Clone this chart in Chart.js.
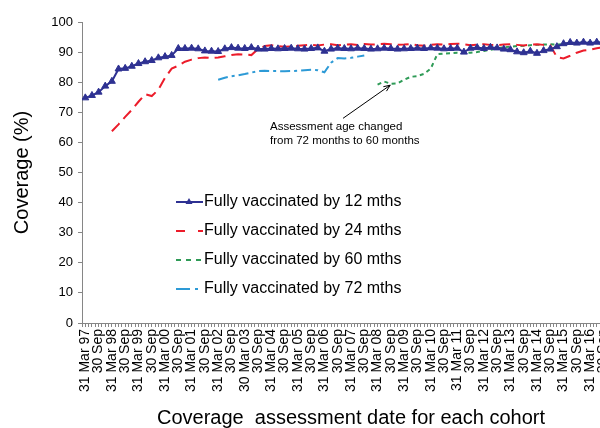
<!DOCTYPE html>
<html>
<head>
<meta charset="utf-8">
<script src="https://cdn.jsdelivr.net/npm/chart.js@4/dist/chart.umd.min.js"></script>
<style>
    html, body { margin: 0; padding: 0; background: #fff; }
    #wrap { width: 600px; height: 428px; overflow: hidden; }
</style>
</head>
<body>
<div id="wrap"><canvas id="chart" width="625" height="428"></canvas></div>
<script>
// labels on every second quarter (31 Mar 97 .. 31 Mar 17)
const tickLabels = [
    '31 Mar 97', '30 Sep', '31 Mar 98', '30 Sep', '31 Mar 99', '30 Sep',
    '31 Mar 00', '30 Sep', '31 Mar 01', '30 Sep', '31 Mar 02', '30 Sep',
    '30 Mar 03', '30 Sep', '31 Mar 04', '30 Sep', '31 Mar 05', '30 Sep',
    '31 Mar 06', '30 Sep', '31 Mar 07', '30 Sep', '31 Mar 08', '30 Sep',
    '31 Mar 09', '30 Sep', '31 Mar 10', '30 Sep', '31 Mar 11', '30 Sep',
    '31 Mar 12', '30 Sep', '31 Mar 13', '30 Sep', '31 Mar 14', '30 Sep',
    '31 Mar 15', '30 Sep', '31 Mar 16', '30 Sep', '31 Mar 17'
];
const quarterCount = 81;

// coverage (%) per quarter, null = not measured
const by12 = [
    74.8, 75.6, 76.7, 78.7, 80.3, 84.4, 84.6, 85.3, 86.2, 86.8, 87.2, 88.1, 88.5, 88.9,
    91.2, 91.2, 91.3, 91.1, 90.4, 90.3, 90.2, 91.1, 91.5, 91.3, 91.2, 91.5, 91.0, 91.0,
    91.2, 91.1, 91.2, 91.3, 91.1, 91.0, 91.2, 91.4, 90.3, 91.0, 91.3, 91.2, 91.1, 91.3,
    91.2, 91.0, 91.1, 91.3, 91.2, 91.0, 91.1, 91.2, 91.3, 91.2, 91.4, 91.3, 91.1, 91.2,
    91.3, 90.0, 91.3, 91.5, 91.2, 91.6, 91.4, 91.0, 90.8, 90.1, 89.8, 90.3, 89.6, 90.5,
    91.0, 91.8, 92.8, 93.2, 93.0, 93.3, 93.0, 93.3, 93.2
];
const by24 = [
    null, null, null, null,
    63.7, 66.0, 68.5, 70.8, 73.5, 76.0, 75.4, 77.5, 81.5, 84.5, 85.5, 86.8, 87.5, 88.0,
    88.2, 88.0, 88.2, 88.6, 89.0, 89.3, 89.2, 89.0, 91.0, 92.0, 92.3, 92.0, 91.8, 91.9,
    92.1, 92.3, 92.4, 92.2, 92.5, 92.6, 92.3, 92.5, 92.6, 92.4, 92.7, 92.5, 92.6, 92.8,
    92.6, 92.4, 92.5, 92.7, 92.3, 92.1, 92.4, 92.6, 92.5, 92.7, 92.8, 92.6, 92.3, 92.5,
    92.6, 92.4, 92.3, 92.5, 92.6, 92.4, 92.2, 92.5, 92.6, 92.4, 92.3, 88.3, 87.9, 88.8,
    89.8, 90.5, 90.8, 91.3, 91.6
];
const by60Start = 44;
const by60 = [
    79.2, 80.2, 79.5, 79.6, 80.8, 81.8, 82.0, 82.8, 84.5, 89.3, 89.5, 89.6, 89.8, 89.7,
    89.8, 90.0, 90.4, 90.8, 91.2, 91.6, 91.8, 92.0, 92.1, 92.3, 92.4, 92.5, 92.6, 92.5,
    92.7, 93.0, 93.1, 93.2, 93.3, 93.3, 93.4
];
const by72Start = 20;
const by72 = [
    80.8, 81.5, 82.0, 82.3, 82.7, 83.2, 83.7, 83.8, 83.7, 83.7, 83.6, 83.7, 83.8, 84.0,
    84.1, 84.0, 83.3, 86.5, 88.0, 87.9, 88.1, 88.5, 88.9
];

function toPoints(values, start) {
    return values
        .map((v, i) => ({ x: i + start, y: v }))
        .filter(p => p.y !== null);
}

const font = 'Liberation Sans, Arial, sans-serif';

// legend drawn inside the plot + the arrow note
const overlay = {
    id: 'overlay',
    afterDatasetsDraw(chart) {
        const ctx = chart.ctx;
        const xs = chart.scales.x, ys = chart.scales.y;
        ctx.save();

        // legend
        const rows = [202, 231, 260, 289];
        const x0 = 176, x1 = 203;
        chart.data.datasets.forEach((ds, i) => {
            const y = rows[i];
            ctx.strokeStyle = ds.borderColor;
            ctx.lineWidth = 2;
            ctx.setLineDash(ds.legendDash || []);
            ctx.beginPath();
            ctx.moveTo(x0, y);
            ctx.lineTo(x1, y);
            ctx.stroke();
            ctx.setLineDash([]);
            if (ds.pointStyle === 'triangle') {
                ctx.fillStyle = ds.borderColor;
                ctx.beginPath();
                ctx.moveTo(189, y - 4);
                ctx.lineTo(192.5, y + 2);
                ctx.lineTo(185.5, y + 2);
                ctx.closePath();
                ctx.fill();
            }
            ctx.fillStyle = '#000';
            ctx.font = '16px ' + font;
            ctx.textBaseline = 'middle';
            ctx.textAlign = 'left';
            ctx.fillText(ds.label, x1 + 1, y);
        });

        // annotation text
        ctx.font = '11.5px ' + font;
        ctx.fillStyle = '#000';
        ctx.fillText('Assessment age changed', 270, 127);
        ctx.fillText('from 72 months to 60 months', 270, 141);

        // arrow
        const ax = xs.getPixelForValue(38.8), ay = ys.getPixelForValue(68.0);
        const bx = xs.getPixelForValue(45.9), by = ys.getPixelForValue(79.0);
        ctx.strokeStyle = '#000';
        ctx.lineWidth = 1;
        ctx.beginPath();
        ctx.moveTo(ax, ay);
        ctx.lineTo(bx, by);
        ctx.stroke();
        const ang = Math.atan2(by - ay, bx - ax);
        ctx.beginPath();
        ctx.moveTo(bx, by);
        ctx.lineTo(bx - 7 * Math.cos(ang - 0.4), by - 7 * Math.sin(ang - 0.4));
        ctx.moveTo(bx, by);
        ctx.lineTo(bx - 7 * Math.cos(ang + 0.4), by - 7 * Math.sin(ang + 0.4));
        ctx.stroke();
        ctx.restore();
    }
};

new Chart(document.getElementById('chart'), {
    type: 'line',
    data: {
        datasets: [
            {
                label: 'Fully vaccinated by 12 mths',
                data: toPoints(by12, 0),
                borderColor: '#2e3192',
                backgroundColor: '#2e3192',
                borderWidth: 2,
                pointStyle: 'triangle',
                pointRadius: 4,
                pointBorderWidth: 1,
                tension: 0
            },
            {
                label: 'Fully vaccinated by 24 mths',
                data: toPoints(by24, 0),
                borderColor: '#ec1c2a',
                borderWidth: 2,
                borderDash: [11, 6],
                legendDash: [9, 13],
                pointRadius: 0,
                tension: 0
            },
            {
                label: 'Fully vaccinated by 60 mths',
                data: toPoints(by60, by60Start),
                borderColor: '#2f9b57',
                borderWidth: 2,
                borderDash: [4, 3.5],
                legendDash: [5, 5],
                pointRadius: 0,
                tension: 0
            },
            {
                label: 'Fully vaccinated by 72 mths',
                data: toPoints(by72, by72Start),
                borderColor: '#2d9ad6',
                borderWidth: 2,
                borderDash: [10, 4, 3, 4],
                legendDash: [14, 5, 3, 5],
                pointRadius: 0,
                tension: 0
            }
        ]
    },
    options: {
        responsive: false,
        animation: false,
        layout: { padding: { top: 22, right: 5, left: 0, bottom: 0 } },
        plugins: {
            legend: { display: false },
            tooltip: { enabled: false }
        },
        scales: {
            x: {
                type: 'linear',
                min: -0.5,
                max: quarterCount - 0.5,
                afterBuildTicks(scale) {
                    const t = [];
                    for (let v = -0.5; v <= quarterCount - 0.5; v += 0.5) t.push({ value: v });
                    scale.ticks = t;
                },
                afterFit(scale) {
                    scale.height = 105;
                    scale.paddingLeft = 0;
                    scale.paddingRight = 0;
                },
                border: { color: '#868686', width: 1 },
                grid: { drawOnChartArea: false, tickLength: 4, color: '#868686' },
                ticks: {
                    autoSkip: false,
                    minRotation: 90,
                    maxRotation: 90,
                    padding: 2,
                    color: '#000',
                    font: { family: font, size: 14 },
                    callback: v => (Number.isInteger(v) && v % 2 === 0) ? tickLabels[v / 2] : ''
                },
                title: {
                    display: true,
                    text: 'Coverage  assessment date for each cohort',
                    color: '#000',
                    font: { family: font, size: 20, lineHeight: 1 },
                    padding: 0
                }
            },
            y: {
                min: 0,
                max: 100,
                afterFit(scale) { scale.width = 82; },
                border: { color: '#868686', width: 1 },
                grid: { drawOnChartArea: false, tickLength: 4, color: '#868686' },
                ticks: {
                    stepSize: 10,
                    padding: 5,
                    color: '#000',
                    font: { family: font, size: 13 }
                },
                title: {
                    display: true,
                    text: 'Coverage (%)',
                    color: '#000',
                    font: { family: font, size: 20, lineHeight: 1.2 },
                    padding: { top: 10, bottom: 0 }
                }
            }
        }
    },
    plugins: [overlay]
});
</script>
</body>
</html>
